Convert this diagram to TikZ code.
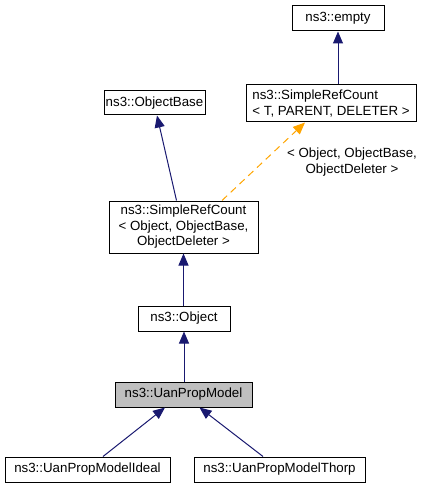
\documentclass[tikz,border=0pt]{standalone}
\usepackage{fontspec}
\setmainfont{Liberation Sans}
\usetikzlibrary{arrows.meta}
\definecolor{edgeblue}{HTML}{191970}
\definecolor{tmplorange}{HTML}{FFA500}
\definecolor{curgray}{HTML}{BFBFBF}
\begin{document}
\begin{tikzpicture}[x=1pt,y=-1pt,
  cls/.style={draw=black,line width=1pt,fill=white,inner sep=0pt,minimum height=25pt,font=\fontsize{13.3}{15.5}\selectfont},
  inh/.style={draw=edgeblue,line width=1pt,-{Triangle[length=12pt,width=10pt]}},
  tmpl/.style={draw=tmplorange,line width=1pt,dash pattern=on 7pt off 5pt,-{Triangle[length=12pt,width=10pt]}}]
\useasboundingbox (0,0) rectangle (433,489);
\node[cls,minimum width=92pt] (empty) at (338,18.5) {ns3::empty};
\node[cls,minimum width=170pt,minimum height=37pt,align=left] (srcT) at (331,103.5) {ns3::SimpleRefCount\\< T, PARENT, DELETER >};
\node[cls,minimum width=101pt,minimum height=24pt] (objbase) at (154.5,103) {ns3::ObjectBase};
\node[cls,minimum width=149pt,minimum height=52pt,align=center] (srcObj) at (183.5,227) {ns3::SimpleRefCount\\< Object, ObjectBase,\\ObjectDeleter >};
\node[cls,minimum width=92pt] (object) at (184,318.5) {ns3::Object};
\node[cls,minimum width=137pt,fill=curgray] (model) at (183.5,394.5) {ns3::UanPropModel};
\node[cls,minimum width=165pt] (ideal) at (87.5,469.5) {ns3::UanPropModelIdeal};
\node[cls,minimum width=171pt] (thorp) at (279.5,469.5) {ns3::UanPropModelThorp};
\node[font=\fontsize{13.3}{15.5}\selectfont,align=center,inner sep=0pt] (lbl) at (352,162) {< Object, ObjectBase,\\ObjectDeleter >};
% inheritance
\draw[inh] (srcT.north -| empty.south) -- (empty.south);
\draw[inh] ([xshift=-7pt]srcObj.north) -- ([xshift=2.5pt]objbase.south);
\draw[tmpl] ([xshift=38.5pt]srcObj.north) -- ([xshift=-26pt]srcT.south);
\draw[inh] (object.north -| srcObj.south) -- (srcObj.south);
\draw[inh] (model.north -| object.south) -- (object.south);
\draw[inh] ([xshift=15.5pt]ideal.north) -- ([xshift=-18.5pt]model.south);
\draw[inh] ([xshift=-16.5pt]thorp.north) -- ([xshift=16pt]model.south);
\end{tikzpicture}
\end{document}
